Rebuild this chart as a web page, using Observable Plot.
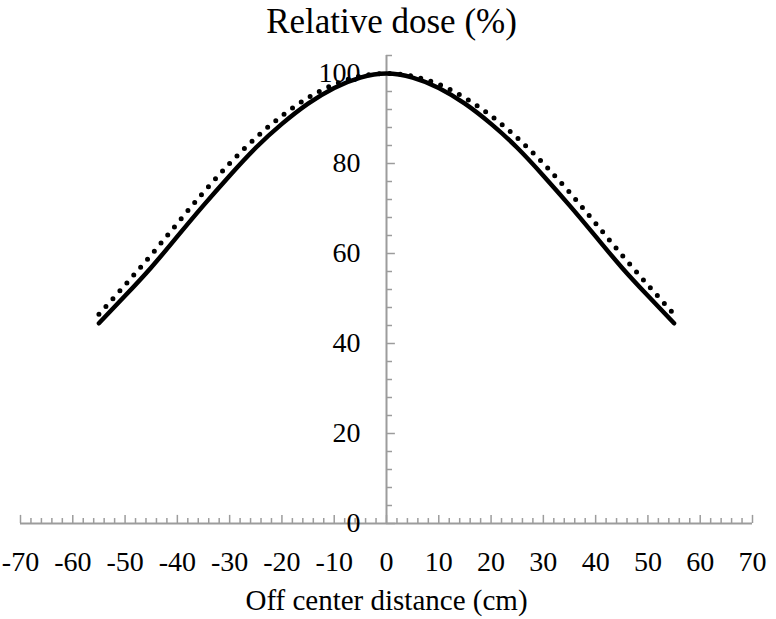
<!DOCTYPE html>
<html>
<head>
<meta charset="utf-8">
<script src="https://cdn.jsdelivr.net/npm/d3@7"></script>
<script src="https://cdn.jsdelivr.net/npm/@observablehq/plot@0.6"></script>
<style>
  html, body { margin: 0; padding: 0; background: #fff; }
  svg { font-family: "Liberation Serif", "Times New Roman", serif; }
</style>
</head>
<body>
<div id="chart"></div>
<script>
// Off-center distance (cm)
const distance = [-55,-50,-45,-40,-35,-30,-25,-20,-15,-10,-5,0,5,10,15,20,25,30,35,40,45,50,55];
// Relative dose (%) – solid curve
const doseSolid = [44.5,50.6,56.9,63.8,70.7,77.3,83.5,88.8,93.3,96.8,99.1,100,99.1,96.8,93.3,88.8,83.5,77.3,70.7,63.8,56.9,50.6,44.5];
// Relative dose (%) – dotted curve
const doseDotted = [46.5,53.0,59.7,66.7,73.6,80.0,85.7,90.6,94.6,97.6,99.4,100,99.4,97.6,94.6,90.6,85.7,80.0,73.6,66.7,59.7,53.0,46.5];

// Axis ticks
const xLabels = [-70,-60,-50,-40,-30,-20,-10,0,10,20,30,40,50,60,70];
const xMinorTicks = d3.range(-70, 71, 2);
const yLabels = [0,20,40,60,80,100];
const yMinorTicks = d3.range(0, 105, 4);

const title = "Relative dose (%)";
const xTitle = "Off center distance (cm)";

const solid = distance.map((x, i) => ({x, y: doseSolid[i]}));
const dotted = distance.map((x, i) => ({x, y: doseDotted[i]}));

const axisColor = "#9c9c9c";

const chart = Plot.plot({
  width: 776,
  height: 619,
  marginLeft: 20,
  marginRight: 24,
  marginTop: 55,
  marginBottom: 96,
  x: {domain: [-70, 70], axis: null},
  y: {domain: [0, 104], axis: null},
  style: {fontFamily: '"Liberation Serif", "Times New Roman", serif', background: "#fff"},
  marks: [
    // x axis line and ticks
    Plot.ruleY([0], {x1: -70, x2: 70, stroke: axisColor, strokeWidth: 2}),
    Plot.ruleX(xMinorTicks.filter(d => d % 10 !== 0), {x: d => d, y1: 0, y2: 1.1, stroke: axisColor, strokeWidth: 1.5}),
    Plot.ruleX(xLabels, {x: d => d, y1: 0, y2: 1.8, stroke: axisColor, strokeWidth: 1.5}),
    // y axis line and ticks
    Plot.ruleX([0], {y1: 0, y2: 104, stroke: axisColor, strokeWidth: 2}),
    Plot.ruleY(yMinorTicks.filter(d => d % 20 !== 0), {y: d => d, x1: 0, x2: 1.15, stroke: axisColor, strokeWidth: 1.5}),
    Plot.ruleY(yLabels, {y: d => d, x1: 0, x2: 1.7, stroke: axisColor, strokeWidth: 1.5}),
    // tick labels (under the curves)
    Plot.text(xLabels, {x: d => d, y: 0, dy: 39, text: d => String(d), fontSize: 28, fill: "#000"}),
    Plot.text(yLabels, {x: 0, y: d => d, dx: -26, textAnchor: "end", text: d => String(d), fontSize: 28, fill: "#000"}),
    // curves
    Plot.line(solid, {x: "x", y: "y", curve: "natural", stroke: "#000", strokeWidth: 4.5, strokeLinecap: "round"}),
    Plot.line(dotted, {x: "x", y: "y", curve: "natural", stroke: "#000", strokeWidth: 5, strokeLinecap: "round", strokeDasharray: "0 10.5"}),
    // titles
    Plot.text([title], {frameAnchor: "top", lineAnchor: "bottom", dx: 5, dy: -23, fontSize: 35, fill: "#000"}),
    Plot.text([xTitle], {frameAnchor: "bottom", lineAnchor: "bottom", dy: 86, fontSize: 29, fill: "#000"})
  ]
});
document.getElementById("chart").append(chart);
</script>
</body>
</html>
